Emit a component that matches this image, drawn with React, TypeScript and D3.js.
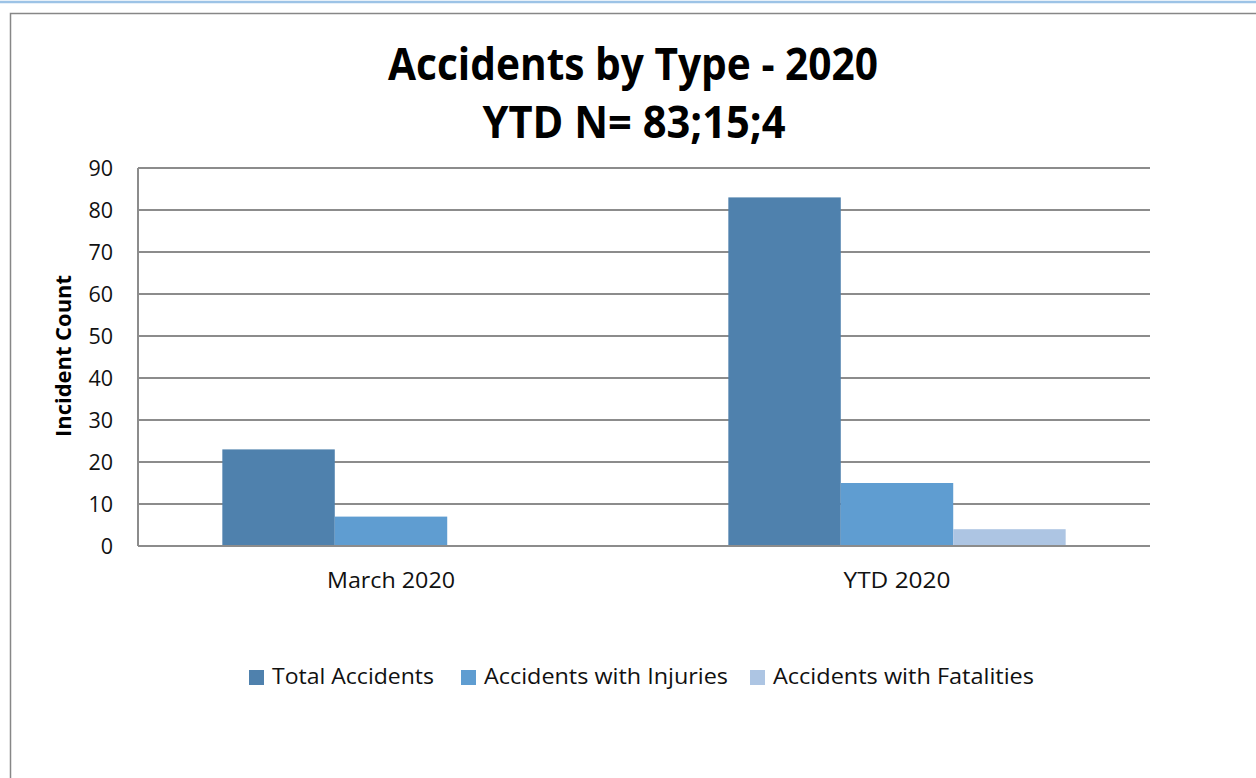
import * as d3 from "d3"
import React from "react"

const categories = ["March 2020", "YTD 2020"]
const seriesNames = ["Total Accidents", "Accidents with Injuries", "Accidents with Fatalities"]
const totalAccidents = [23, 83]
const withInjuries = [7, 15]
const withFatalities = [0, 4]
const yTicks = [0, 10, 20, 30, 40, 50, 60, 70, 80, 90]
const colors = ["#4f81ad", "#5f9dd1", "#adc5e3"]

// text widths as they appear in the picture (font stand-in for Calibri)
const categoryWidths = [128, 107]
const legendWidths = [162, 244, 261]

const font = "'Open Sans', 'Noto Sans', sans-serif"

const App = () => {
  const width = 1256
  const height = 778
  const margin = { left: 138, right: 106, top: 168, bottom: 232 }
  const series = [totalAccidents, withInjuries, withFatalities]

  const x = d3
    .scaleBand()
    .domain(categories)
    .range([margin.left, width - margin.right])
  const bandPad = (x.bandwidth() / 4.5) * 0.75
  const x1 = d3
    .scaleBand()
    .domain(seriesNames)
    .range([bandPad, x.bandwidth() - bandPad])
  const y = d3
    .scaleLinear()
    .domain([0, 90])
    .range([height - margin.bottom, margin.top])

  const legendX = [249, 461, 750]

  return (
    <svg width={width} height={height} style={{ position: "absolute", left: 0, top: 0 }}>
      <rect width={width} height={height} fill="#fff" />
      <line x1={0} x2={width} y1={2} y2={2} stroke="#9dc3e6" strokeWidth={2.5} />
      <rect x={10.5} y={13.5} width={width + 20} height={height} fill="none" stroke="#878787" strokeWidth={1.5} />

      <text
        x={633}
        y={80}
        textAnchor="middle"
        fontFamily={font}
        fontWeight="bold"
        fontSize={44}
        textLength={490}
        lengthAdjust="spacingAndGlyphs"
      >
        Accidents by Type - 2020
      </text>
      <text
        x={634}
        y={138}
        textAnchor="middle"
        fontFamily={font}
        fontWeight="bold"
        fontSize={44}
        textLength={303}
        lengthAdjust="spacingAndGlyphs"
      >
        YTD N= 83;15;4
      </text>

      {yTicks.map((t) => (
        <g key={t}>
          {t > 0 && (
            <line x1={margin.left} x2={width - margin.right} y1={y(t)} y2={y(t)} stroke="#8c8c8c" strokeWidth={2} />
          )}
          <text x={113} y={y(t)} dy="0.36em" textAnchor="end" fontFamily={font} fontSize={21.5} fill="#111">
            {t}
          </text>
        </g>
      ))}
      <line x1={margin.left} x2={margin.left} y1={y(90)} y2={y(0)} stroke="#8c8c8c" strokeWidth={2} />

      {categories.map((c, i) => (
        <g key={c} transform={`translate(${x(c)},0)`}>
          {series.map((s, j) =>
            s[i] > 0 ? (
              <rect
                key={j}
                x={x1(seriesNames[j])}
                y={y(s[i])}
                width={x1.bandwidth()}
                height={y(0) - y(s[i])}
                fill={colors[j]}
              />
            ) : null
          )}
          <text
            x={x.bandwidth() / 2}
            y={588}
            textAnchor="middle"
            fontFamily={font}
            fontSize={22}
            fill="#111"
            textLength={categoryWidths[i]}
            lengthAdjust="spacingAndGlyphs"
          >
            {c}
          </text>
        </g>
      ))}
      <line x1={margin.left} x2={width - margin.right} y1={y(0)} y2={y(0)} stroke="#8c8c8c" strokeWidth={2} />

      <text
        transform="translate(71,356) rotate(-90)"
        textAnchor="middle"
        fontFamily={font}
        fontWeight="bold"
        fontSize={21}
        textLength={162}
        lengthAdjust="spacingAndGlyphs"
      >
        Incident Count
      </text>

      {seriesNames.map((n, j) => (
        <g key={n} transform={`translate(${legendX[j]},670)`}>
          <rect x={0} y={0} width={15} height={15} fill={colors[j]} />
          <text
            x={23}
            y={14}
            fontFamily={font}
            fontSize={22.5}
            fill="#111"
            textLength={legendWidths[j]}
            lengthAdjust="spacingAndGlyphs"
          >
            {n}
          </text>
        </g>
      ))}
    </svg>
  )
}

export default App
